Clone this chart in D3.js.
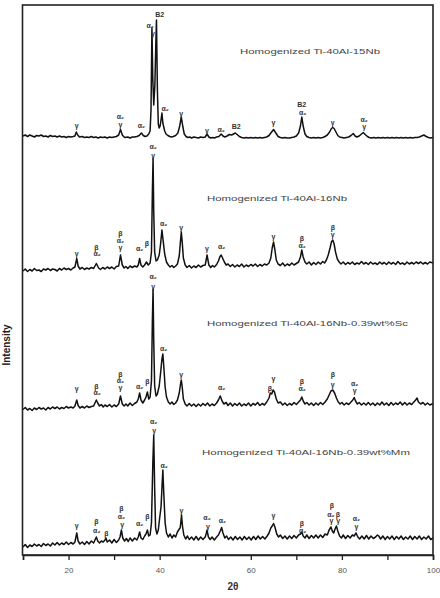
<!DOCTYPE html>
<html>
  <head>
    <meta charset="utf-8" />
    <title>XRD patterns</title>
    <script src="https://d3js.org/d3.v7.min.js"></script>
    <style>
      body { margin: 0; background: #fff; }
      text { font-family: "Liberation Sans", Arial, sans-serif; }
    </style>
  </head>

  <body>
    <svg id="viz"></svg>

    <script>
        // sample names, top to bottom
        var samples = [
            "Homogenized Ti-40Al-15Nb",
            "Homogenized Ti-40Al-16Nb",
            "Homogenized Ti-40Al-16Nb-0.39wt%Sc",
            "Homogenized Ti-40Al-16Nb-0.39wt%Mm"
        ];

        // vertical stacking offset of each pattern (a.u.)
        var offsets = [415, 283, 144, 7];

        var xTicks = [10, 20, 30, 40, 50, 60, 70, 80, 90, 100];
        var xTickLabels = ["", "20", "", "40", "", "60", "", "80", "", "100"];

        // [2theta, intensity]
        var ti15Nb = [[10,4],[10.5,5],[11,3.5],[11.5,5],[12,4],[12.5,3],[13,4.5],[13.5,4],[14,5],[14.5,3.5],[15,4],[15.5,3],[16,4.5],[16.5,3.5],[17,4],[17.5,3],[18,4],[18.5,3],[19,3.5],[19.5,2.5],[20,3.5],[20.5,3],[21,3.5],[21.4,4],[21.7,8],[22,5],[22.4,3],[23,3.5],[23.5,2.5],[24,3],[24.5,2.5],[25,3.5],[25.5,2.5],[26,3],[26.5,2],[27,3],[27.5,2.5],[28,3],[28.5,2],[29,3],[29.5,2.5],[30,3],[30.5,3.5],[31,5],[31.4,10.5],[31.8,5],[32.2,3],[32.5,2.5],[33,3],[33.5,2],[34,3],[34.5,3],[35,3.5],[35.5,4.5],[36,7],[36.4,4.5],[36.8,3.5],[37.2,4],[37.6,6],[37.9,9],[38.1,30],[38.3,112],[38.5,60],[38.7,35],[38.95,55],[39.15,95],[39.3,120],[39.5,50],[39.7,16],[39.9,12],[40.1,14],[40.3,20],[40.5,27],[40.7,17],[40.9,13],[41.1,9],[41.4,6],[41.8,4.5],[42.2,3.5],[42.6,3],[43,3.5],[43.5,4.5],[44,7],[44.4,14],[44.75,23],[45.1,13],[45.4,6],[45.8,3.5],[46.2,2.5],[46.6,3],[47,2],[47.5,3],[48,2.5],[48.5,2],[49,3],[49.5,2.5],[50,3],[50.4,6],[50.8,3],[51.2,2],[51.6,2.5],[52,2],[52.5,3],[53,3.5],[53.5,6],[53.9,4],[54.3,3],[54.8,4],[55.3,5.5],[55.8,5],[56.2,6],[56.6,7],[57,5.5],[57.5,3.5],[58,2.5],[58.5,2],[59,2.5],[59.5,2],[60,2.5],[60.5,2],[61,2.5],[61.5,2],[62,2.5],[62.5,2],[63,2.5],[63.5,3],[64,4.5],[64.5,7.5],[65,10.5],[65.5,7],[66,3.5],[66.5,2.5],[67,2],[67.5,2.5],[68,2],[68.5,2],[69,2.5],[69.5,3],[70,4],[70.5,7],[70.9,14],[71.2,23],[71.5,14],[71.9,6],[72.3,3.5],[72.8,2.5],[73.3,2],[73.8,2.5],[74.3,2],[74.8,2.5],[75.3,2],[75.8,2.5],[76.3,3.5],[76.8,5],[77.3,8],[77.7,11.5],[78,12.5],[78.3,11.5],[78.7,8],[79.1,4.5],[79.5,3],[80,2.5],[80.5,2],[81,2.5],[81.5,3],[82,4.5],[82.5,6.5],[82.9,4],[83.3,3],[83.8,4],[84.3,6],[84.7,7.5],[85.1,5.5],[85.6,3.5],[86,2.5],[86.5,2],[87,2.5],[87.5,2],[88,2.5],[88.5,2],[89,2.5],[89.5,2],[90,2.5],[90.5,2],[91,2.5],[91.5,2],[92,2.5],[92.5,2],[93,2.5],[93.5,2],[94,2.5],[94.5,2],[95,2.5],[95.5,2],[96,2.5],[96.5,2.5],[97,3],[97.5,4],[98,5],[98.5,3.5],[99,2.5],[99.5,2],[100,2.5]];

        var ti16Nb = [[10,1],[10.5,3],[11,0.5],[11.5,2.5],[12,1],[12.5,3.5],[13,1.5],[13.5,2],[14,0.5],[14.5,3],[15,2],[15.5,3.5],[16,1.5],[16.5,3],[17,2.5],[17.5,1],[18,3.5],[18.5,2],[19,4],[19.5,2.5],[20,3.5],[20.5,2],[21,4],[21.4,5],[21.8,13.5],[22.1,6],[22.5,3],[23,4.5],[23.5,2.5],[24,4],[24.5,3],[25,4.5],[25.5,3.5],[26.1,8.5],[26.6,4],[27,2.5],[27.5,4.5],[28,3],[28.5,5],[29,3.5],[29.5,5],[30,3],[30.5,5.5],[31,6],[31.4,17],[31.8,7],[32.2,4],[32.6,5.5],[33,3.5],[33.5,6],[34,4.5],[34.5,6],[35,5],[35.3,7],[35.6,13.5],[35.9,7],[36.3,5],[36.7,7],[37.1,10],[37.5,7],[37.9,9],[38.2,20],[38.4,80],[38.55,114],[38.7,60],[38.9,20],[39.2,11],[39.5,12],[39.9,17],[40.2,28],[40.5,42],[40.8,30],[41.1,18],[41.5,10],[41.9,7],[42.3,5],[42.7,6.5],[43.1,4.5],[43.5,6],[43.9,8],[44.3,16],[44.55,30],[44.75,40],[44.95,30],[45.2,14],[45.6,7],[46,4.5],[46.5,6.5],[47,4],[47.5,6],[48,4.5],[48.5,7],[49,5],[49.5,6.5],[50,7],[50.4,17],[50.8,7],[51.2,4.5],[51.6,6.5],[52,5],[52.5,7.5],[52.9,11],[53.2,15],[53.5,17],[53.8,14],[54.2,10],[54.6,7],[55,8],[55.5,5.5],[56,7.5],[56.5,5],[57,7],[57.5,5.5],[58,8],[58.5,5],[59,7],[59.5,5.5],[60,7.5],[60.5,6],[61,8],[61.5,5.5],[62,7.5],[62.5,6],[63,8],[63.5,7],[64,9],[64.4,14],[64.7,24],[65,30],[65.3,22],[65.6,12],[66,8],[66.5,6.5],[67,9],[67.5,6],[68,8],[68.5,6.5],[69,9],[69.5,7],[70,8.5],[70.5,10],[70.9,15],[71.2,22],[71.5,15],[71.9,10],[72.3,8],[72.8,10],[73.3,7],[73.8,9.5],[74.3,7.5],[74.8,10],[75.3,8],[75.8,10.5],[76.2,9],[76.6,12],[77,17],[77.4,24],[77.7,30],[78,32],[78.3,28],[78.6,20],[79,13],[79.4,10],[79.8,8],[80.3,10],[80.8,7.5],[81.3,9.5],[81.8,8],[82.3,10],[82.8,7.5],[83.3,9],[83.8,8],[84.3,10.5],[84.8,8],[85.3,9.5],[85.8,7.5],[86.3,10],[86.8,8],[87.3,9],[87.8,7.5],[88.3,10],[88.8,8],[89.3,9.5],[89.8,7.5],[90.3,10],[90.8,8],[91.3,9.5],[91.8,7.5],[92.3,10.5],[92.8,8],[93.3,9],[93.8,7.5],[94.3,10],[94.8,8],[95.3,9.5],[95.8,8],[96.3,10],[96.8,8.5],[97.3,10],[97.8,8],[98.3,9.5],[98.8,8],[99.3,10],[100,9]];

        var ti16NbSc = [[10,1.5],[10.5,3.5],[11,1],[11.5,2.5],[12,0.5],[12.5,3],[13,1.5],[13.5,3.5],[14,2],[14.5,3],[15,1],[15.5,3.5],[16,2],[16.5,4],[17,2.5],[17.5,4],[18,2],[18.5,3.5],[19,2.5],[19.5,4.5],[20,3],[20.5,4],[21,3],[21.4,5],[21.8,11],[22.1,5.5],[22.5,3],[23,4.5],[23.5,3],[24,5],[24.5,3.5],[25,4.5],[25.5,5],[25.8,8],[26.1,11],[26.4,8],[26.8,5],[27.2,6.5],[27.6,4],[28,6],[28.5,4.5],[29,6.5],[29.5,4],[30,6],[30.5,4.5],[31,7],[31.4,15],[31.8,7],[32.2,5],[32.6,7],[33,5],[33.5,8],[34,5.5],[34.5,7.5],[35,9],[35.3,12],[35.6,18],[35.9,11],[36.3,8],[36.7,11],[37,14],[37.3,19],[37.6,12],[37.9,14],[38.2,30],[38.4,90],[38.55,122],[38.7,70],[38.9,25],[39.2,15],[39.5,17],[39.9,25],[40.2,38],[40.5,52],[40.7,57],[40.9,45],[41.2,24],[41.5,14],[41.9,9],[42.3,7],[42.7,9],[43.1,6.5],[43.5,8],[43.9,11],[44.3,18],[44.55,26],[44.75,31],[44.95,24],[45.2,12],[45.6,7],[46,5],[46.5,7.5],[47,5],[47.5,7],[48,4.5],[48.5,7],[49,5],[49.5,7.5],[50,5.5],[50.5,8],[51,5],[51.5,7],[52,5.5],[52.5,8],[52.9,11],[53.3,15],[53.7,10],[54.1,7],[54.6,8.5],[55,5.5],[55.5,8],[56,5],[56.5,7.5],[57,5.5],[57.5,8],[58,5],[58.5,7],[59,5.5],[59.5,8],[60,5],[60.5,7.5],[61,6],[61.5,8.5],[62,5.5],[62.5,7.5],[63,6],[63.5,9],[64,13],[64.3,18],[64.6,17],[64.9,21],[65.2,19],[65.6,12],[66,8],[66.5,9],[67,6],[67.5,8],[68,5.5],[68.5,7.5],[69,6],[69.5,8.5],[70,6.5],[70.5,9],[70.9,11],[71.2,14],[71.5,10],[71.9,7],[72.3,8.5],[72.8,6],[73.3,8],[73.8,5.5],[74.3,8],[74.8,6],[75.3,8.5],[75.8,6.5],[76.3,9],[76.8,12],[77.2,16],[77.6,20],[78,21],[78.4,18],[78.8,13],[79.2,9],[79.6,7],[80,8.5],[80.5,6],[81,8],[81.5,6.5],[82,9],[82.4,11],[82.7,13.5],[83,10],[83.4,7],[83.8,8.5],[84.3,6],[84.8,8],[85.3,6],[85.8,8.5],[86.3,6],[86.8,8],[87.3,5.5],[87.8,8],[88.3,6],[88.8,9],[89.3,6],[89.8,8],[90.3,5.5],[90.8,8.5],[91.3,6],[91.8,8],[92.3,6.5],[92.8,9],[93.3,6],[93.8,8.5],[94.3,6],[94.8,8],[95.3,6.5],[95.8,9],[96.2,11],[96.5,13],[96.8,9],[97.3,7],[97.8,8.5],[98.3,6],[98.8,8],[99.3,6],[100,7.5]];

        var ti16NbMm = [[10,1],[10.5,3.5],[11,0.5],[11.5,3],[12,1.5],[12.5,4],[13,2],[13.5,3.5],[14,1.5],[14.5,4.5],[15,2.5],[15.5,4],[16,2],[16.5,5],[17,3],[17.5,5.5],[18,3],[18.5,5],[19,3.5],[19.5,6],[20,3.5],[20.5,5.5],[21,4],[21.4,6],[21.8,15],[22.1,7],[22.5,4],[23,6],[23.5,3.5],[24,6.5],[24.5,4],[25,7],[25.5,5],[25.8,8],[26.1,11],[26.4,7],[26.8,5],[27.2,7],[27.6,6],[28,8],[28.2,10],[28.5,6],[29,8],[29.5,5],[30,8.5],[30.5,5.5],[31,8],[31.3,11],[31.6,18],[31.9,10],[32.3,7],[32.7,9.5],[33.1,6.5],[33.5,10],[34,7],[34.5,10],[35,8],[35.3,11],[35.6,16],[35.9,10],[36.3,8.5],[36.7,12],[37,14],[37.3,18],[37.6,12],[37.9,13],[38.2,25],[38.5,85],[38.7,113],[38.9,60],[39.1,20],[39.4,14],[39.7,18],[40,30],[40.3,41],[40.5,60],[40.7,78],[40.9,55],[41.2,25],[41.5,15],[41.9,11],[42.3,14],[42.7,10],[43.1,13],[43.5,11],[43.9,16],[44.3,19],[44.5,20],[44.65,26],[44.8,33],[45,22],[45.3,13],[45.7,9],[46.1,12],[46.5,8.5],[47,11],[47.5,8],[48,11.5],[48.5,8],[49,11],[49.5,8.5],[50,11],[50.2,14],[50.4,18],[50.7,11],[51.1,8.5],[51.5,11],[52,8],[52.5,11],[52.9,13],[53.3,17],[53.6,20.5],[53.9,15],[54.3,10],[54.7,12],[55.1,8.5],[55.6,11],[56.1,8],[56.6,11.5],[57.1,8.5],[57.6,11],[58.1,8],[58.6,11.5],[59.1,8.5],[59.6,11],[60.1,8],[60.6,11.5],[61.1,8.5],[61.6,12],[62.1,9],[62.6,11.5],[63.1,9],[63.6,12],[64,15],[64.4,20],[64.7,22],[65,24.5],[65.3,21],[65.7,14],[66.1,11],[66.5,13],[67,9.5],[67.5,12],[68,9],[68.5,12],[69,9.5],[69.5,12.5],[70,10],[70.5,13],[70.9,14],[71.2,16],[71.5,12],[71.9,10],[72.3,13],[72.8,9.5],[73.3,12.5],[73.8,10],[74.3,13],[74.8,10],[75.3,13],[75.8,10.5],[76.3,14],[76.8,13],[77.2,18],[77.6,21],[77.9,17],[78.2,15],[78.5,19],[78.8,22],[79.1,17],[79.5,12],[79.9,10],[80.3,13],[80.8,9.5],[81.3,12.5],[81.8,10],[82.3,13],[82.7,12],[83.1,15],[83.5,11],[83.9,9],[84.4,12],[84.9,9],[85.4,12.5],[85.9,9],[86.4,12],[86.9,9.5],[87.4,11],[87.8,13],[88.1,12],[88.5,9],[89,12],[89.5,8.5],[90,11.5],[90.5,9],[91,12],[91.5,8.5],[92,11.5],[92.5,9],[93,12],[93.5,8.5],[94,11],[94.5,9],[95,12],[95.5,8.5],[96,11.5],[96.5,9],[97,12],[97.5,8.5],[98,11],[98.5,9],[99,12],[99.5,8.5],[100,10]];

        // peak annotations: [2theta, level (a.u.), phase]
        var peaks15Nb = [[21.8,15,"γ"],[31.4,24,"α₂"],[31.4,15.3,"γ"],[36.0,14.3,"α₂"],[37.9,115,"α₂"],[38.5,107,"γ"],[40.0,126,"B2"],[41.2,31.7,"α₂"],[44.75,27,"γ"],[50.4,9.5,"γ"],[53.5,10.7,"α₂"],[56.8,14,"B2"],[65.0,17.3,"γ"],[71.2,35.3,"B2"],[71.4,28,"α₂"],[78.0,18,"γ"],[84.9,21,"α₂"],[84.9,14,"γ"]];
        var peaks16Nb = [[21.8,19,"γ"],[26.1,25,"β"],[26.3,19,"α₂"],[31.4,39,"β"],[31.4,32,"α₂"],[31.4,25,"γ"],[35.6,24,"α₂"],[37.2,29,"β"],[38.6,125.3,"α₂"],[38.6,117,"γ"],[40.9,49,"α₂"],[44.75,45,"γ"],[50.4,24,"γ"],[53.6,25.3,"α₂"],[65.0,35.3,"γ"],[71.2,34,"β"],[71.3,27,"α₂"],[78.0,45,"β"],[78.0,38,"γ"]];
        var peaks16NbSc = [[21.8,23,"γ"],[26.1,25,"β"],[26.3,18.3,"α₂"],[31.4,37,"β"],[31.4,31,"α₂"],[31.4,24,"γ"],[35.6,24.3,"α₂"],[37.3,30,"β"],[38.6,134.3,"α₂"],[38.6,125,"γ"],[40.9,63,"α₂"],[44.75,37,"γ"],[53.6,23.3,"α₂"],[65.0,33,"γ"],[64.2,23,"β"],[71.2,29.3,"β"],[71.3,22.7,"α₂"],[78.0,37,"β"],[78.0,27,"γ"],[82.8,28,"α₂"],[82.8,21,"γ"]];
        var peaks16NbMm = [[21.8,23,"γ"],[26.1,26.3,"β"],[26.2,18,"α₂"],[28.3,15,"β"],[31.6,40,"β"],[31.6,31.3,"α₂"],[31.8,24,"γ"],[35.6,25,"α₂"],[37.3,31.3,"β"],[38.7,126.3,"α₂"],[38.8,118,"γ"],[41.0,83,"α₂"],[44.8,38,"γ"],[50.4,30.3,"α₂"],[50.6,22,"γ"],[53.8,28,"α₂"],[65.0,33,"γ"],[71.2,25,"β"],[71.4,18,"α₂"],[77.8,43,"β"],[77.6,34,"α₂"],[79.1,34,"β"],[77.7,28,"γ"],[79.2,28,"γ"],[83.2,30,"α₂"],[83.2,22,"γ"]];

        var series = [ti15Nb, ti16Nb, ti16NbSc, ti16NbMm];
        var peakSets = [peaks15Nb, peaks16Nb, peaks16NbSc, peaks16NbMm];

        var width = 440, height = 598;
        var margin = {left: 23, right: 433, top: 5, bottom: 555};

        var svg = d3.select("#viz")
            .attr("width", width)
            .attr("height", height);

        var x = d3.scaleLinear().domain([10, 100]).range([margin.left, margin.right]);
        var y = d3.scaleLinear().domain([0, 550]).range([margin.bottom, margin.top]);

        // patterns
        var line = d3.line()
            .x(function(d) { return x(d[0]); })
            .y(function(d) { return y(d[1]); });

        series.forEach(function(s, i) {
            svg.append("path")
                .datum(s.map(function(d) { return [d[0], d[1] + offsets[i]]; }))
                .attr("d", line)
                .attr("fill", "none")
                .attr("stroke", "#111")
                .attr("stroke-width", 1.5)
                .attr("stroke-linejoin", "round");
        });

        // phase labels
        peakSets.forEach(function(p, i) {
            svg.selectAll(null)
                .data(p)
                .enter().append("text")
                .attr("x", function(d) { return x(d[0]); })
                .attr("y", function(d) { return y(d[1] + offsets[i]) + 2.5; })
                .attr("text-anchor", "middle")
                .attr("font-size", 7)
                .attr("font-weight", "bold")
                .attr("fill", "#333")
                .text(function(d) { return d[2]; });
        });

        // sample names
        var nameBoxes = [[240, 54, 140], [207, 200.5, 140], [207, 326, 201], [202, 455, 208]];
        svg.selectAll(null)
            .data(samples)
            .enter().append("text")
            .attr("x", function(d, i) { return nameBoxes[i][0]; })
            .attr("y", function(d, i) { return nameBoxes[i][1]; })
            .attr("textLength", function(d, i) { return nameBoxes[i][2]; })
            .attr("lengthAdjust", "spacingAndGlyphs")
            .attr("font-size", 8)
            .attr("fill", "#444")
            .text(function(d) { return d; });

        // frame
        svg.append("rect")
            .attr("x", margin.left - 0.5)
            .attr("y", margin.top)
            .attr("width", margin.right - margin.left + 0.5)
            .attr("height", margin.bottom - margin.top)
            .attr("fill", "none")
            .attr("stroke", "#222")
            .attr("stroke-width", 1.6);

        var xAxis = d3.axisBottom(x)
            .tickValues(xTicks)
            .tickSize(5)
            .tickFormat(function(d, i) { return xTickLabels[i]; });

        var gx = svg.append("g")
            .attr("transform", "translate(0," + margin.bottom + ")")
            .call(xAxis);
        gx.select(".domain").attr("stroke", "#222").attr("stroke-width", 1.6);
        gx.selectAll(".tick line").attr("stroke", "#222").attr("stroke-width", 1.3);
        gx.selectAll(".tick text")
            .attr("font-size", 8)
            .attr("fill", "#555")
            .attr("dy", "1.3em")
            .style("font-family", "'Liberation Sans', Arial, sans-serif");

        svg.append("text")
            .attr("x", 233)
            .attr("y", 590)
            .attr("text-anchor", "middle")
            .attr("font-size", 10)
            .attr("font-weight", "bold")
            .attr("fill", "#333")
            .text("2θ");

        svg.append("text")
            .attr("transform", "translate(10,345) rotate(-90)")
            .attr("text-anchor", "middle")
            .attr("font-size", 10)
            .attr("font-weight", "bold")
            .attr("fill", "#222")
            .text("Intensity");
    </script>
  </body>
</html>
